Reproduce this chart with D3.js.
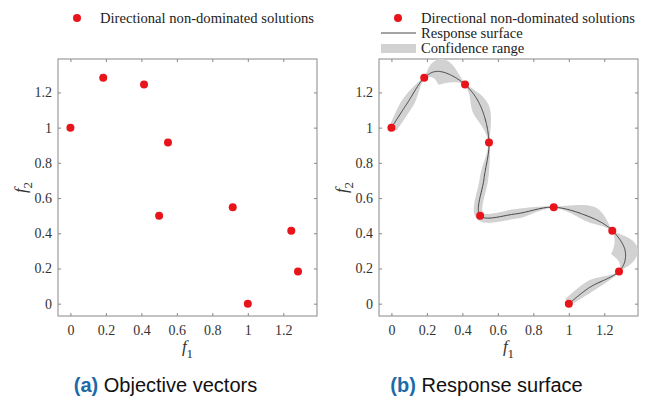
<!DOCTYPE html>
<html>
<head>
<meta charset="utf-8">
<script src="https://cdn.jsdelivr.net/npm/d3@7"></script>
<style>
  body { margin: 0; background: #fff; }
  text { font-family: "Liberation Serif", "Times New Roman", serif; }
</style>
</head>
<body>
<svg id="chart" width="651" height="399"></svg>
<script>
// directional non-dominated solutions (f1, f2)
const solF1 = [0, 0.185, 0.415, 0.55, 0.5, 0.915, 1.245, 1.283, 1.0];
const solF2 = [1.0, 1.283, 1.245, 0.915, 0.5, 0.548, 0.415, 0.183, 0.0];

// response surface, read along the front from (0,1) to (1,0)
const surfF1 = [0, 0.09, 0.185, 0.28, 0.415, 0.508, 0.55, 0.522, 0.5, 0.70, 0.915, 1.12, 1.245, 1.318, 1.283, 1.12, 1.0];
const surfF2 = [1.0, 1.14, 1.283, 1.318, 1.245, 1.11, 0.915, 0.71, 0.5, 0.51, 0.548, 0.492, 0.415, 0.298, 0.183, 0.094, 0.0];
// confidence half-width on the outer (left of travel) and inner side
const confOut = [0.016, 0.034, 0.006, 0.072, 0.006, 0.044, 0.005, 0.024, 0.022, 0.027, 0.005, 0.062, 0.005, 0.072, 0.005, 0.028, 0.014];
const confIn  = [0.034, 0.036, 0.006, 0.074, 0.006, 0.054, 0.005, 0.024, 0.026, 0.027, 0.005, 0.03, 0.005, 0.08, 0.005, 0.036, 0.034];

const tickVals = [0, 0.2, 0.4, 0.6, 0.8, 1, 1.2];
const captionTags = ["(a)", "(b)"];
const captionTexts = ["Objective vectors", "Response surface"];

const svg = d3.select("#chart");
const red = "#e8141c";
const serif = "'Liberation Serif', 'Times New Roman', serif";
const boxW = 259, boxH = 257, boxTop = 59;
const panels = [58, 379];

function drawPanel(left, idx) {
  const x = d3.scaleLinear().domain([-0.07, 1.39]).range([left, left + boxW]);
  const y = d3.scaleLinear().domain([-0.07, 1.39]).range([boxTop + boxH, boxTop]);
  const g = svg.append("g");

  const axisStyle = sel => {
    sel.attr("font-family", serif).attr("font-size", 14);
    sel.select(".domain").remove();
    sel.selectAll("line").attr("stroke", "#888");
    sel.selectAll("text").attr("fill", "#333").style("font-family", serif).style("font-size", "14px");
  };
  g.append("g").attr("transform", `translate(0,${boxTop + boxH})`)
    .call(d3.axisBottom(x).tickValues(tickVals).tickSize(-3).tickPadding(9).tickFormat(d3.format("~g")))
    .call(axisStyle);
  g.append("g").attr("transform", `translate(0,${boxTop})`)
    .call(d3.axisTop(x).tickValues(tickVals).tickSize(-3).tickFormat(""))
    .call(axisStyle);
  g.append("g").attr("transform", `translate(${left},0)`)
    .call(d3.axisLeft(y).tickValues(tickVals).tickSize(-3).tickPadding(6).tickFormat(d3.format("~g")))
    .call(axisStyle);
  g.append("g").attr("transform", `translate(${left + boxW},0)`)
    .call(d3.axisRight(y).tickValues(tickVals).tickSize(-3).tickFormat(""))
    .call(axisStyle);
  g.append("rect").attr("x", left).attr("y", boxTop).attr("width", boxW).attr("height", boxH)
    .attr("fill", "none").attr("stroke", "#888").attr("stroke-width", 1);

  // axis labels
  const cx = left + boxW / 2;
  const xl = g.append("text").attr("x", cx).attr("y", 352).attr("text-anchor", "middle")
    .style("font-family", serif).style("font-size", "17px").attr("fill", "#333");
  xl.append("tspan").style("font-style", "italic").text("f");
  xl.append("tspan").attr("dy", 6).style("font-size", "13px").text("1");
  const yl = g.append("text").attr("transform", `translate(${left - 32},${boxTop + boxH / 2}) rotate(-90)`)
    .attr("text-anchor", "middle").style("font-family", serif).style("font-size", "17px").attr("fill", "#333");
  yl.append("tspan").style("font-style", "italic").text("f");
  yl.append("tspan").attr("dy", 6).style("font-size", "13px").text("2");

  // caption, centred on the whole sub-figure
  const cap = g.append("text").attr("x", cx - 22).attr("y", 392).attr("text-anchor", "middle")
    .style("font-family", "'Liberation Sans', Arial, sans-serif").style("font-size", "20px");
  cap.append("tspan").attr("font-weight", "bold").attr("fill", "#1c6aa6").text(captionTags[idx]);
  cap.append("tspan").attr("fill", "#111").text(" " + captionTexts[idx]);

  return { g, x, y };
}

// uniform Catmull-Rom sampling of the surface curve, with the half-widths eased between controls
function sampleSurface(x, y) {
  const P = surfF1.map((d, i) => [x(d), y(surfF2[i])]);
  const n = P.length, k = x(1) - x(0), out = [];
  const at = i => P[Math.max(0, Math.min(n - 1, i))];
  for (let i = 0; i < n - 1; i++) {
    const p0 = at(i - 1), p1 = at(i), p2 = at(i + 1), p3 = at(i + 2);
    const steps = 30;
    for (let s = 0; s <= steps; s++) {
      if (i > 0 && s === 0) continue;
      const t = s / steps, t2 = t * t, t3 = t2 * t;
      const pt = [0, 1].map(c => 0.5 * (2 * p1[c] + (-p0[c] + p2[c]) * t +
        (2 * p0[c] - 5 * p1[c] + 4 * p2[c] - p3[c]) * t2 + (-p0[c] + 3 * p1[c] - 3 * p2[c] + p3[c]) * t3));
      const dv = [0, 1].map(c => 0.5 * ((-p0[c] + p2[c]) + 2 * (2 * p0[c] - 5 * p1[c] + 4 * p2[c] - p3[c]) * t +
        3 * (-p0[c] + 3 * p1[c] - 3 * p2[c] + p3[c]) * t2));
      const len = Math.hypot(dv[0], dv[1]) || 1;
      const nrm = [dv[1] / len, -dv[0] / len];
      const e = 3 * t2 - 2 * t3;
      const wo = (confOut[i] + (confOut[i + 1] - confOut[i]) * e) * k;
      const wi = (confIn[i] + (confIn[i + 1] - confIn[i]) * e) * k;
      out.push({ p: pt, up: [pt[0] + nrm[0] * wo, pt[1] + nrm[1] * wo], lo: [pt[0] - nrm[0] * wi, pt[1] - nrm[1] * wi] });
    }
  }
  return out;
}

function drawPoints(g, x, y) {
  g.selectAll("circle.sol").data(solF1).join("circle").attr("class", "sol")
    .attr("cx", d => x(d)).attr("cy", (d, i) => y(solF2[i])).attr("r", 4).attr("fill", red);
}

// panel (a)
const A = drawPanel(panels[0], 0);
drawPoints(A.g, A.x, A.y);

// panel (b)
const B = drawPanel(panels[1], 1);
const samples = sampleSurface(B.x, B.y);
const band = samples.map(d => d.up).concat(samples.map(d => d.lo).reverse());
B.g.append("path").attr("d", d3.line().curve(d3.curveBasisClosed)(band)).attr("fill", "#d2d2d2").attr("stroke", "none");
B.g.append("path").attr("d", d3.line()(samples.map(d => d.p)))
  .attr("fill", "none").attr("stroke", "#333").attr("stroke-width", 0.9);
drawPoints(B.g, B.x, B.y);

// legends
const legText = (x, yb, s) => svg.append("text").attr("x", x).attr("y", yb)
  .style("font-family", serif).style("font-size", "14.6px").attr("fill", "#222").text(s);
svg.append("circle").attr("cx", 77).attr("cy", 18).attr("r", 4).attr("fill", red);
legText(100, 23, "Directional non-dominated solutions");

svg.append("circle").attr("cx", 398).attr("cy", 18).attr("r", 4).attr("fill", red);
legText(421, 23, "Directional non-dominated solutions");
svg.append("line").attr("x1", 381).attr("x2", 416).attr("y1", 33).attr("y2", 33)
  .attr("stroke", "#333").attr("stroke-width", 0.9);
legText(421, 38, "Response surface");
svg.append("rect").attr("x", 381).attr("y", 44).attr("width", 35).attr("height", 9).attr("fill", "#d2d2d2");
legText(421, 53, "Confidence range");
</script>
</body>
</html>
